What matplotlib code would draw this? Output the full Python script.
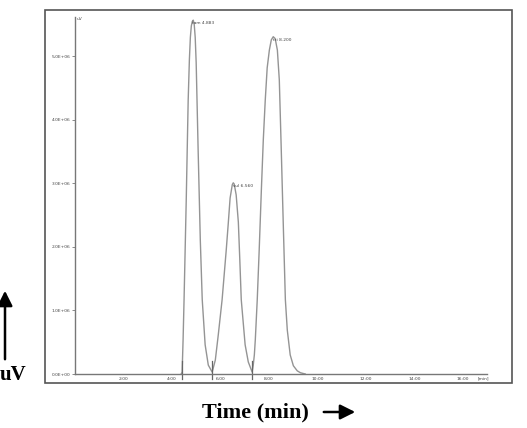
import matplotlib
matplotlib.use("Agg")
import matplotlib.pyplot as plt
from matplotlib.patches import Rectangle, FancyArrowPatch

# ---- data (time in min, signal in uV) ----
time_min = [4.38, 4.42, 4.46, 4.50, 4.59, 4.67, 4.72, 4.76, 4.80, 4.84, 4.88, 4.92, 4.96, 5.00, 5.08, 5.17, 5.25, 5.37, 5.50, 5.66,
            5.79, 5.91, 6.07, 6.24, 6.32, 6.40, 6.49, 6.53, 6.57, 6.65, 6.74, 6.80, 6.86, 7.02, 7.15, 7.31,
            7.355, 7.40, 7.44, 7.52, 7.60, 7.69, 7.77, 7.85, 7.93, 8.02, 8.10, 8.18, 8.26, 8.35, 8.43, 8.51, 8.60,
            8.68, 8.76, 8.88, 9.01, 9.17, 9.30, 9.50]
signal_uV = [0.0, 0.03e6, 0.54e6, 1.17e6, 2.74e6, 4.31e6, 4.95e6, 5.30e6, 5.48e6, 5.55e6, 5.57e6, 5.50e6, 5.30e6, 4.90e6, 3.54e6, 2.11e6, 1.17e6, 0.46e6, 0.14e6, 0.03e6,
             0.22e6, 0.61e6, 1.17e6, 1.95e6, 2.35e6, 2.77e6, 2.98e6, 3.01e6, 2.99e6, 2.82e6, 2.39e6, 1.80e6, 1.17e6, 0.46e6, 0.19e6, 0.03e6,
             0.14e6, 0.30e6, 0.54e6, 1.17e6, 1.95e6, 2.90e6, 3.69e6, 4.31e6, 4.82e6, 5.10e6, 5.26e6, 5.31e6, 5.28e6, 5.10e6, 4.63e6, 3.54e6, 2.27e6,
             1.17e6, 0.69e6, 0.30e6, 0.13e6, 0.05e6, 0.02e6, 0.0]

peak_times = [4.883, 6.560, 8.200]
peak_heights = [5.57e6, 3.01e6, 5.31e6]
peak_labels = ["tam 4.883", "sul 6.560", "tri 8.200"]
marker_times = [4.40, 5.64, 7.30]

y_ticks = [0, 1e6, 2e6, 3e6, 4e6, 5e6]
y_tick_labels = ["0.0E+00", "1.0E+06", "2.0E+06", "3.0E+06", "4.0E+06", "5.0E+06"]
x_ticks = [2, 4, 6, 8, 10, 12, 14, 16]
x_tick_labels = ["2:00", "4:00", "6:00", "8:00", "10:00", "12:00", "14:00", "16:00"]

W, H = 527, 428
fig = plt.figure(figsize=(W / 100, H / 100), dpi=100)

# outer frame
fig.patches.append(Rectangle((45 / W, 1 - 383 / H), (512 - 45) / W, (383 - 10) / H,
                             transform=fig.transFigure, fill=False, edgecolor="#555555", lw=1.2))

ax = fig.add_axes([75 / W, 1 - 374 / H, (487 - 75) / W, (374 - 17) / H])
ax.plot(time_min, signal_uV, color="#949494", lw=1.0)
ax.set_xlim(0, 17.0)
ax.set_ylim(0, 5.62e6)

for s in ["top", "right"]:
    ax.spines[s].set_visible(False)
for s in ["left", "bottom"]:
    ax.spines[s].set_color("#777777")
    ax.spines[s].set_linewidth(1.0)

ax.set_yticks(y_ticks)
ax.set_yticklabels(y_tick_labels, fontsize=3.2, color="#444444")
ax.tick_params(axis="y", length=2.5, width=0.6, color="#777777", pad=1)
ax.set_xticks(x_ticks)
ax.set_xticklabels(x_tick_labels, fontsize=3.2, color="#444444")
ax.tick_params(axis="x", length=0, pad=2)
ax.annotate("[min]", xy=(16.6, 0), xycoords=("data", "axes fraction"), xytext=(0, -2),
            textcoords="offset points", fontsize=3.2, color="#444444", va="top", ha="left")
ax.text(0.05, 5.62e6, "uV", fontsize=3.2, color="#444444", va="top", ha="left")

for t in marker_times:
    ax.plot([t, t], [-0.08e6, 0.2e6], color="#666666", lw=0.9, clip_on=False)

for t, h, lab in zip(peak_times, peak_heights, peak_labels):
    ax.text(t - 0.05, h - 0.05e6, lab, fontsize=3.2, color="#444444", va="center", ha="left")

# outer labels
fig.text(0 / W, 1 - 375 / H, "uV", fontsize=15, fontweight="bold",
         family=["Liberation Serif", "DejaVu Serif"], va="center", ha="left")
fig.patches.append(FancyArrowPatch((5 / W, 1 - 362 / H), (5 / W, 1 - 288 / H),
                                   transform=fig.transFigure, arrowstyle="-|>,head_length=9,head_width=4.5",
                                   color="black", lw=1.8))
fig.text(255 / W, 1 - 412 / H, "Time (min)", fontsize=16, fontweight="bold",
         family=["Liberation Serif", "DejaVu Serif"], va="center", ha="center")
fig.patches.append(FancyArrowPatch((321 / W, 1 - 412 / H), (358 / W, 1 - 412 / H),
                                   transform=fig.transFigure, arrowstyle="-|>,head_length=9,head_width=4.5",
                                   color="black", lw=1.8))

fig.savefig("out.png", dpi=100)
